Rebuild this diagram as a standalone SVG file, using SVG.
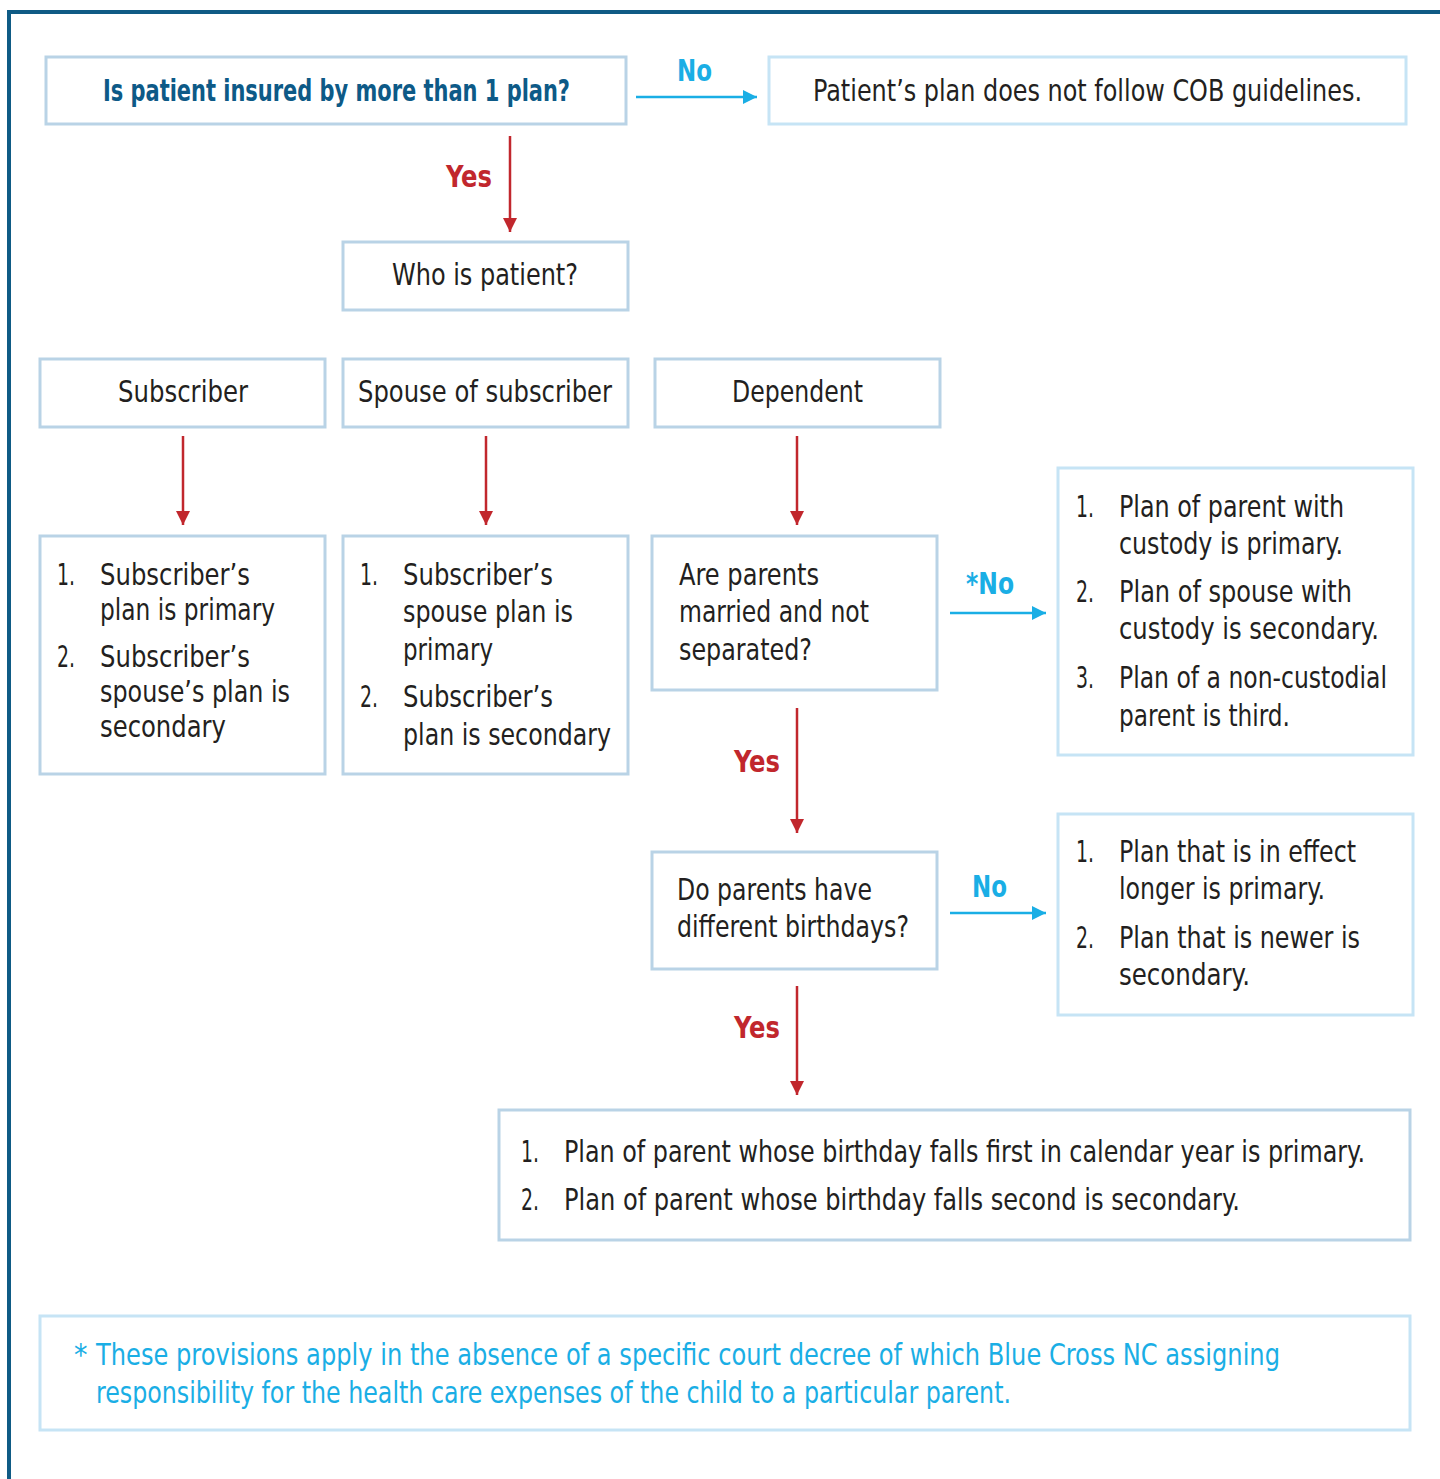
<svg xmlns="http://www.w3.org/2000/svg" width="1440" height="1479" viewBox="0 0 1440 1479">
<style>
  .box { fill: #ffffff; stroke: #b9d3e6; stroke-width: 3; }
  .box2 { fill: #ffffff; stroke: #c6e4f5; stroke-width: 3; }
  .t { font-family: "DejaVu Sans Condensed", "Liberation Sans", sans-serif; font-size: 30px; fill: #231f20; }
  .q { font-weight: bold; fill: #0d5a87; }
  .lblR { font-family: "DejaVu Sans Condensed", "Liberation Sans", sans-serif; font-weight: bold; font-size: 30px; fill: #c1272d; }
  .lblB { font-family: "DejaVu Sans Condensed", "Liberation Sans", sans-serif; font-weight: bold; font-size: 30px; fill: #1aaee5; }
  .note { font-family: "DejaVu Sans Condensed", "Liberation Sans", sans-serif; font-size: 30px; fill: #1aaee5; }
  .red { stroke: #c1272d; stroke-width: 2.5; fill: none; }
  .blue { stroke: #1aaee5; stroke-width: 2.5; fill: none; }
</style>
<defs>
  <marker id="ar" viewBox="0 0 10 10" refX="10" refY="5" markerWidth="16" markerHeight="14" markerUnits="userSpaceOnUse" orient="auto">
    <path d="M0,0 L10,5 L0,10 Z" fill="#c1272d"/>
  </marker>
  <marker id="ab" viewBox="0 0 10 10" refX="10" refY="5" markerWidth="16" markerHeight="14" markerUnits="userSpaceOnUse" orient="auto">
    <path d="M0,0 L10,5 L0,10 Z" fill="#1aaee5"/>
  </marker>
</defs>
<rect x="0" y="0" width="1440" height="1479" fill="#ffffff"/>
<g id="frame">
  <line x1="7" y1="12" x2="1440" y2="12" stroke="#0f5b85" stroke-width="4"/>
  <line x1="9" y1="10" x2="9" y2="1479" stroke="#0f5b85" stroke-width="4"/>
</g>

<g id="connectors">
  <line class="blue" x1="636" y1="97" x2="757" y2="97" marker-end="url(#ab)"/>
  <text class="lblB" x="677" y="81" textLength="35" lengthAdjust="spacingAndGlyphs">No</text>
  <line class="red" x1="510" y1="136" x2="510" y2="232" marker-end="url(#ar)"/>
  <text class="lblR" x="446" y="187" textLength="46" lengthAdjust="spacingAndGlyphs">Yes</text>
  <line class="red" x1="183" y1="436" x2="183" y2="525" marker-end="url(#ar)"/>
  <line class="red" x1="486" y1="436" x2="486" y2="525" marker-end="url(#ar)"/>
  <line class="red" x1="797" y1="436" x2="797" y2="525" marker-end="url(#ar)"/>
  <line class="blue" x1="950" y1="613" x2="1046" y2="613" marker-end="url(#ab)"/>
  <text class="lblB" x="966" y="594" textLength="48" lengthAdjust="spacingAndGlyphs">*No</text>
  <line class="red" x1="797" y1="708" x2="797" y2="833" marker-end="url(#ar)"/>
  <text class="lblR" x="734" y="772" textLength="46" lengthAdjust="spacingAndGlyphs">Yes</text>
  <line class="blue" x1="950" y1="913" x2="1046" y2="913" marker-end="url(#ab)"/>
  <text class="lblB" x="972" y="897" textLength="35" lengthAdjust="spacingAndGlyphs">No</text>
  <line class="red" x1="797" y1="986" x2="797" y2="1095" marker-end="url(#ar)"/>
  <text class="lblR" x="734" y="1038" textLength="46" lengthAdjust="spacingAndGlyphs">Yes</text>
</g>

<g id="n-insured">
  <rect class="box" x="46" y="57" width="580" height="67"/>
  <text class="t q" x="103" y="101" textLength="467" lengthAdjust="spacingAndGlyphs">Is patient insured by more than 1 plan?</text>
</g>
<g id="n-nocob">
  <rect class="box2" x="769" y="57" width="637" height="67"/>
  <text class="t" x="813" y="101" textLength="549" lengthAdjust="spacingAndGlyphs">Patient’s plan does not follow COB guidelines.</text>
</g>
<g id="n-who">
  <rect class="box" x="343" y="242" width="285" height="68"/>
  <text class="t" x="392" y="285" textLength="186" lengthAdjust="spacingAndGlyphs">Who is patient?</text>
</g>
<g id="n-subscriber">
  <rect class="box" x="40" y="359" width="285" height="68"/>
  <text class="t" x="118" y="402" textLength="130" lengthAdjust="spacingAndGlyphs">Subscriber</text>
</g>
<g id="n-spouse">
  <rect class="box" x="343" y="359" width="285" height="68"/>
  <text class="t" x="358" y="402" textLength="254" lengthAdjust="spacingAndGlyphs">Spouse of subscriber</text>
</g>
<g id="n-dependent">
  <rect class="box" x="655" y="359" width="285" height="68"/>
  <text class="t" x="732" y="402" textLength="131" lengthAdjust="spacingAndGlyphs">Dependent</text>
</g>
<g id="n-sub-rule">
  <rect class="box" x="40" y="536" width="285" height="238"/>
  <text class="t" x="57" y="585" textLength="18" lengthAdjust="spacingAndGlyphs">1.</text>
  <text class="t" x="100" y="585" textLength="150" lengthAdjust="spacingAndGlyphs">Subscriber’s</text>
  <text class="t" x="100" y="620" textLength="175" lengthAdjust="spacingAndGlyphs">plan is primary</text>
  <text class="t" x="57" y="667" textLength="18" lengthAdjust="spacingAndGlyphs">2.</text>
  <text class="t" x="100" y="667" textLength="150" lengthAdjust="spacingAndGlyphs">Subscriber’s</text>
  <text class="t" x="100" y="702" textLength="190" lengthAdjust="spacingAndGlyphs">spouse’s plan is</text>
  <text class="t" x="100" y="737" textLength="126" lengthAdjust="spacingAndGlyphs">secondary</text>
</g>
<g id="n-spouse-rule">
  <rect class="box" x="343" y="536" width="285" height="238"/>
  <text class="t" x="360" y="585" textLength="18" lengthAdjust="spacingAndGlyphs">1.</text>
  <text class="t" x="403" y="585" textLength="150" lengthAdjust="spacingAndGlyphs">Subscriber’s</text>
  <text class="t" x="403" y="622" textLength="170" lengthAdjust="spacingAndGlyphs">spouse plan is</text>
  <text class="t" x="403" y="660" textLength="90" lengthAdjust="spacingAndGlyphs">primary</text>
  <text class="t" x="360" y="707" textLength="18" lengthAdjust="spacingAndGlyphs">2.</text>
  <text class="t" x="403" y="707" textLength="150" lengthAdjust="spacingAndGlyphs">Subscriber’s</text>
  <text class="t" x="403" y="745" textLength="208" lengthAdjust="spacingAndGlyphs">plan is secondary</text>
</g>
<g id="n-married">
  <rect class="box" x="652" y="536" width="285" height="154"/>
  <text class="t" x="679" y="585" textLength="140" lengthAdjust="spacingAndGlyphs">Are parents</text>
  <text class="t" x="679" y="622" textLength="190" lengthAdjust="spacingAndGlyphs">married and not</text>
  <text class="t" x="679" y="660" textLength="133" lengthAdjust="spacingAndGlyphs">separated?</text>
</g>
<g id="n-custody">
  <rect class="box2" x="1058" y="468" width="355" height="287"/>
  <text class="t" x="1076" y="517" textLength="18" lengthAdjust="spacingAndGlyphs">1.</text>
  <text class="t" x="1119" y="517" textLength="225" lengthAdjust="spacingAndGlyphs">Plan of parent with</text>
  <text class="t" x="1119" y="554" textLength="224" lengthAdjust="spacingAndGlyphs">custody is primary.</text>
  <text class="t" x="1076" y="602" textLength="18" lengthAdjust="spacingAndGlyphs">2.</text>
  <text class="t" x="1119" y="602" textLength="233" lengthAdjust="spacingAndGlyphs">Plan of spouse with</text>
  <text class="t" x="1119" y="639" textLength="260" lengthAdjust="spacingAndGlyphs">custody is secondary.</text>
  <text class="t" x="1076" y="688" textLength="18" lengthAdjust="spacingAndGlyphs">3.</text>
  <text class="t" x="1119" y="688" textLength="268" lengthAdjust="spacingAndGlyphs">Plan of a non-custodial</text>
  <text class="t" x="1119" y="726" textLength="171" lengthAdjust="spacingAndGlyphs">parent is third.</text>
</g>
<g id="n-birthdays">
  <rect class="box" x="652" y="852" width="285" height="117"/>
  <text class="t" x="677" y="900" textLength="195" lengthAdjust="spacingAndGlyphs">Do parents have</text>
  <text class="t" x="677" y="937" textLength="232" lengthAdjust="spacingAndGlyphs">different birthdays?</text>
</g>
<g id="n-effect">
  <rect class="box2" x="1058" y="814" width="355" height="201"/>
  <text class="t" x="1076" y="862" textLength="18" lengthAdjust="spacingAndGlyphs">1.</text>
  <text class="t" x="1119" y="862" textLength="237" lengthAdjust="spacingAndGlyphs">Plan that is in effect</text>
  <text class="t" x="1119" y="899" textLength="206" lengthAdjust="spacingAndGlyphs">longer is primary.</text>
  <text class="t" x="1076" y="948" textLength="18" lengthAdjust="spacingAndGlyphs">2.</text>
  <text class="t" x="1119" y="948" textLength="241" lengthAdjust="spacingAndGlyphs">Plan that is newer is</text>
  <text class="t" x="1119" y="985" textLength="131" lengthAdjust="spacingAndGlyphs">secondary.</text>
</g>
<g id="n-birthday-rule">
  <rect class="box" x="499" y="1110" width="911" height="130"/>
  <text class="t" x="521" y="1162" textLength="18" lengthAdjust="spacingAndGlyphs">1.</text>
  <text class="t" x="564" y="1162" textLength="801" lengthAdjust="spacingAndGlyphs">Plan of parent whose birthday falls first in calendar year is primary.</text>
  <text class="t" x="521" y="1210" textLength="18" lengthAdjust="spacingAndGlyphs">2.</text>
  <text class="t" x="564" y="1210" textLength="676" lengthAdjust="spacingAndGlyphs">Plan of parent whose birthday falls second is secondary.</text>
</g>
<g id="n-footnote">
  <rect class="box2" x="40" y="1316" width="1370" height="114"/>
  <text class="note" x="74" y="1365">*</text>
  <text class="note" x="96" y="1365" textLength="1184" lengthAdjust="spacingAndGlyphs">These provisions apply in the absence of a specific court decree of which Blue Cross NC assigning</text>
  <text class="note" x="96" y="1403" textLength="915" lengthAdjust="spacingAndGlyphs">responsibility for the health care expenses of the child to a particular parent.</text>
</g>
</svg>
